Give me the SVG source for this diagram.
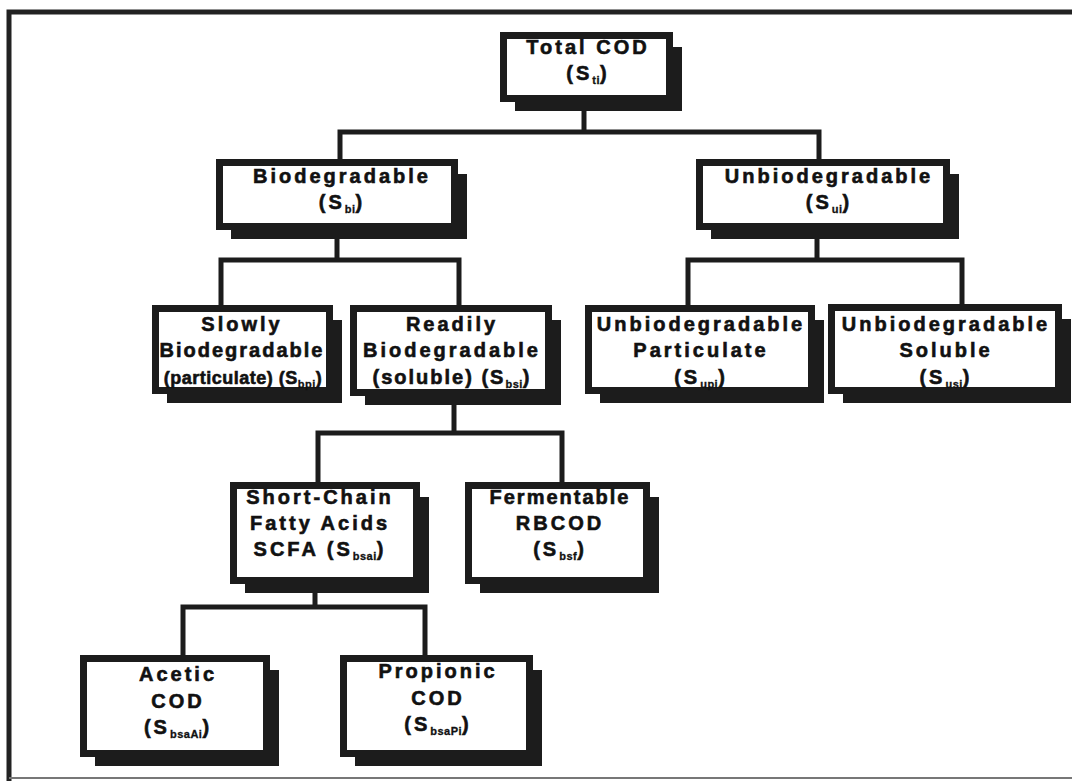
<svg xmlns="http://www.w3.org/2000/svg" width="1072" height="781" viewBox="0 0 1072 781">
<style>
.frame{fill:none;stroke:#222;stroke-width:5}
.bottom{fill:none;stroke:#777;stroke-width:2}
.conn{fill:none;stroke:#1c1c1c;stroke-width:5;stroke-linejoin:miter;stroke-linecap:square}
.sh{fill:#1c1c1c}
.bx{fill:#fff;stroke:#1c1c1c;stroke-width:7}
.t{font-family:"Liberation Sans",Arial,sans-serif;font-weight:bold;font-size:20px;letter-spacing:3px;text-anchor:middle;fill:#111;stroke:#111;stroke-width:0.6}
.n{letter-spacing:0.5px;font-size:18px}
.m{letter-spacing:2px}
.sub{font-size:11px;letter-spacing:0.5px;stroke-width:0.3}
</style>
<rect width="1072" height="781" fill="#fff"/>
<path class="frame" d="M9,781 V12 H1072"/>
<path class="bottom" d="M9,778 H1072"/>
<g id="connectors">
<path class="conn" d="M584,102 V132 M340,159 V132 H819 V159"/>
<path class="conn" d="M337,230 V260 M221,305 V260 H459 V305"/>
<path class="conn" d="M817,230 V260 M688,305 V260 H962 V304"/>
<path class="conn" d="M454,396 V433 M318,482 V433 H562 V482"/>
<path class="conn" d="M315,584 V607 M183,655 V607 H425 V655"/>
</g>
<g id="total-cod">
<rect class="sh" x="515" y="47" width="167" height="64"/>
<rect class="bx" x="503.5" y="35.5" width="166" height="63"/>
<text class="t" x="588" y="54">Total COD</text>
<text class="t" x="588" y="80">(S<tspan class="sub" dy="4">ti</tspan><tspan dy="-4">)</tspan></text>
</g>
<g id="biodegradable">
<rect class="sh" x="231" y="174" width="236" height="65"/>
<rect class="bx" x="219.5" y="162.5" width="235" height="64"/>
<text class="t" x="342" y="183">Biodegradable</text>
<text class="t" x="342" y="209">(S<tspan class="sub" dy="4">bi</tspan><tspan dy="-4">)</tspan></text>
</g>
<g id="unbiodegradable">
<rect class="sh" x="711" y="174" width="248" height="65"/>
<rect class="bx" x="699.5" y="162.5" width="247" height="64"/>
<text class="t" x="829" y="183">Unbiodegradable</text>
<text class="t" x="829" y="209">(S<tspan class="sub" dy="4">ui</tspan><tspan dy="-4">)</tspan></text>
</g>
<g id="slowly">
<rect class="sh" x="167" y="320" width="175" height="83"/>
<rect class="bx" x="155.5" y="308.5" width="174" height="82"/>
<text class="t" x="242" y="331">Slowly</text>
<text class="t m" x="242" y="357">Biodegradable</text>
<text class="t n" x="243" y="384">(particulate) (S<tspan class="sub" dy="4">bpi</tspan><tspan dy="-4">)</tspan></text>
</g>
<g id="readily">
<rect class="sh" x="365" y="320" width="196" height="85"/>
<rect class="bx" x="353.5" y="308.5" width="195" height="84"/>
<text class="t" x="452" y="331">Readily</text>
<text class="t" x="452" y="357">Biodegradable</text>
<text class="t m" x="452" y="384">(soluble) (S<tspan class="sub" dy="4">bsi</tspan><tspan dy="-4">)</tspan></text>
</g>
<g id="unbiodegradable-particulate">
<rect class="sh" x="600" y="320" width="224" height="83"/>
<rect class="bx" x="588.5" y="308.5" width="223" height="82"/>
<text class="t" x="701" y="331">Unbiodegradable</text>
<text class="t" x="701" y="357">Particulate</text>
<text class="t" x="701" y="384">(S<tspan class="sub" dy="4">upi</tspan><tspan dy="-4">)</tspan></text>
</g>
<g id="unbiodegradable-soluble">
<rect class="sh" x="843" y="319" width="228" height="84"/>
<rect class="bx" x="831.5" y="307.5" width="227" height="83"/>
<text class="t" x="946" y="331">Unbiodegradable</text>
<text class="t" x="946" y="357">Soluble</text>
<text class="t" x="946" y="384">(S<tspan class="sub" dy="4">usi</tspan><tspan dy="-4">)</tspan></text>
</g>
<g id="scfa">
<rect class="sh" x="245" y="497" width="184" height="96"/>
<rect class="bx" x="233.5" y="485.5" width="183" height="95"/>
<text class="t" x="320" y="504">Short-Chain</text>
<text class="t" x="320" y="530">Fatty Acids</text>
<text class="t" x="320" y="556">SCFA (S<tspan class="sub" dy="4">bsai</tspan><tspan dy="-4">)</tspan></text>
</g>
<g id="fermentable">
<rect class="sh" x="480" y="497" width="179" height="96"/>
<rect class="bx" x="468.5" y="485.5" width="178" height="95"/>
<text class="t m" x="560" y="504">Fermentable</text>
<text class="t" x="560" y="530">RBCOD</text>
<text class="t" x="560" y="556">(S<tspan class="sub" dy="4">bsf</tspan><tspan dy="-4">)</tspan></text>
</g>
<g id="acetic">
<rect class="sh" x="95" y="670" width="184" height="96"/>
<rect class="bx" x="83.5" y="658.5" width="183" height="95"/>
<text class="t" x="178" y="681">Acetic</text>
<text class="t" x="178" y="708">COD</text>
<text class="t" x="178" y="734">(S<tspan class="sub" dy="4">bsaAi</tspan><tspan dy="-4">)</tspan></text>
</g>
<g id="propionic">
<rect class="sh" x="355" y="670" width="187" height="96"/>
<rect class="bx" x="343.5" y="658.5" width="186" height="95"/>
<text class="t" x="438" y="678">Propionic</text>
<text class="t" x="438" y="705">COD</text>
<text class="t" x="438" y="731">(S<tspan class="sub" dy="4">bsaPi</tspan><tspan dy="-4">)</tspan></text>
</g>
</svg>
